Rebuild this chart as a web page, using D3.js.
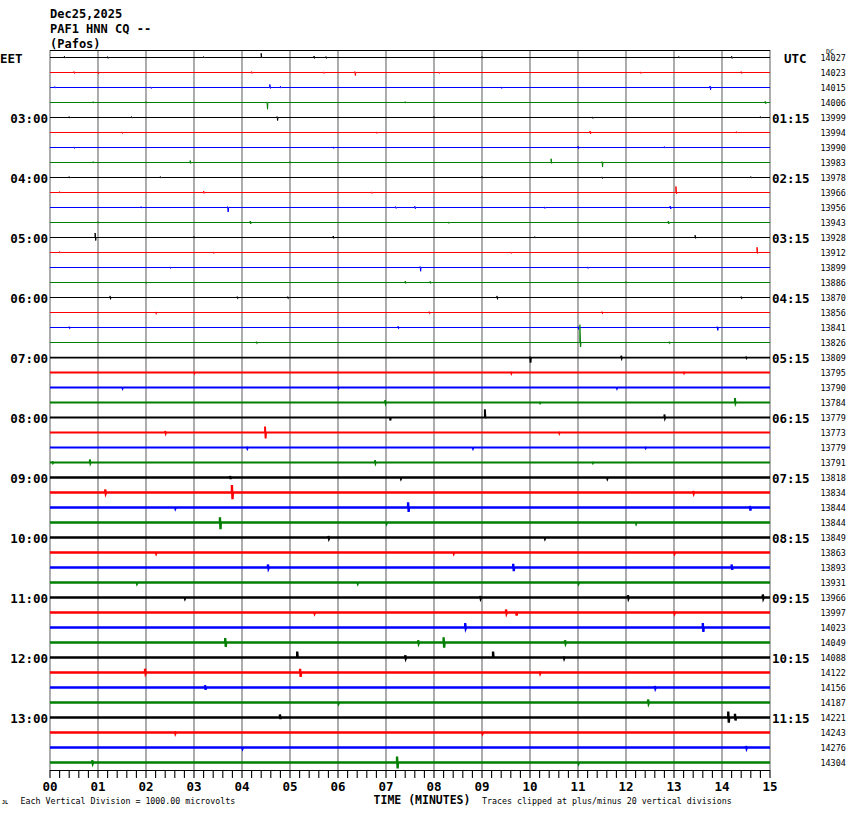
<!DOCTYPE html>
<html><head><meta charset="utf-8">
<script src="https://cdn.jsdelivr.net/npm/d3@7"></script>
<style>
html,body{margin:0;padding:0;background:#fff;}
svg{display:block;}
text{font-family:"DejaVu Sans Mono",monospace;}
</style></head>
<body>
<svg id="chart" width="850" height="814"></svg>
<script>
// ---------- data ----------
const headerLines = ["Dec25,2025", "PAF1 HNN CQ --", "(Pafos)"];
const minuteTicks = ["00","01","02","03","04","05","06","07","08","09","10","11","12","13","14","15"];
const eetLabels = ["EET","03:00","04:00","05:00","06:00","07:00","08:00","09:00","10:00","11:00","12:00","13:00"];
const utcLabels = ["UTC","01:15","02:15","03:15","04:15","05:15","06:15","07:15","08:15","09:15","10:15","11:15"];
const dcOffsets = [14027,14023,14015,14006,13999,13994,13990,13983,13978,13966,13956,13943,
  13928,13912,13899,13886,13870,13856,13841,13826,13809,13795,13790,13784,
  13779,13773,13779,13791,13818,13834,13844,13844,13849,13863,13893,13931,
  13966,13997,14023,14049,14088,14122,14156,14187,14221,14243,14276,14304];
// background noise half-envelope per trace (microvolts)
const noiseLevel = [0,0,0,0,0,0,0,0,0,0,0,0,0,0,0,0,
  8,8,8,8,25,30,30,30,30,30,35,30,
  45,45,45,45,45,45,45,45,45,45,45,45,45,45,45,45,45,45,45,45];
// spikes per trace: [minute, up microvolts, down microvolts]
const spikes = [
  [[0.3,80,40],[1.2,60,60],[3.2,60,30],[4.4,280,30],[5.5,100,60],[5.75,60,60],[9.0,60,40],[13.1,60,40],[14.2,80,60]],
  [[0.5,60,60],[1.0,40,80],[4.2,60,60],[5.7,40,60],[6.35,60,200],[8.1,40,60],[12.3,40,60],[14.4,60,60]],
  [[0.1,60,40],[2.1,40,60],[4.58,200,60],[4.8,80,40],[9.4,40,60],[13.75,100,150]],
  [[0.9,60,40],[2.0,60,40],[4.52,40,450],[7.4,60,40],[14.9,80,80]],
  [[0.4,60,40],[1.7,60,40],[4.73,60,200],[8.0,60,40],[11.3,40,60],[14.8,60,40]],
  [[1.5,40,60],[6.8,40,60],[11.25,100,100],[14.3,60,40]],
  [[0.5,40,60],[5.9,40,60],[11.0,80,80],[12.8,60,40]],
  [[0.9,60,40],[2.92,130,60],[5.0,60,40],[10.44,250,60],[11.5,60,300],[14.0,60,40]],
  [[0.4,60,40],[2.3,60,40],[9.0,60,40],[11.5,40,60],[14.6,60,40]],
  [[0.2,60,40],[3.2,100,60],[6.7,40,60],[13.04,400,100]],
  [[1.9,60,40],[3.7,60,300],[7.2,60,60],[7.6,80,80],[10.3,40,60],[12.92,100,100]],
  [[1.0,60,40],[4.17,100,100],[8.3,40,60],[12.88,100,100]],
  [[0.94,300,200],[3.0,60,40],[5.9,100,60],[10.1,60,40],[13.44,150,60]],
  [[0.2,60,40],[3.4,40,60],[9.6,40,60],[14.73,350,60]],
  [[2.5,40,60],[7.71,60,250],[11.2,40,60]],
  [[2.0,40,60],[7.4,100,60],[7.92,80,60],[12.0,60,40]],
  [[1.25,100,60],[3.9,60,40],[4.95,60,40],[9.31,100,60],[14.4,60,40]],
  [[2.2,40,60],[7.9,60,40],[11.5,60,40]],
  [[0.4,60,40],[7.25,80,40],[11.0,60,60],[13.9,60,200]],
  [[4.3,60,40],[11.04,1200,300],[12.9,60,40]],
  [[10.0,60,350],[11.9,120,60],[14.5,60,40]],
  [[3.0,60,40],[9.6,60,60],[13.2,60,40]],
  [[1.5,40,60],[6.0,60,40],[11.8,40,60]],
  [[6.98,150,60],[10.2,60,40],[14.27,300,60]],
  [[7.08,60,200],[9.06,550,60],[12.8,200,60]],
  [[2.4,100,60],[4.48,400,400],[10.6,60,60]],
  [[4.1,60,60],[8.8,40,60],[12.4,60,40]],
  [[0.05,80,40],[0.83,200,60],[6.77,150,60],[11.3,60,40]],
  [[3.75,100,100],[7.3,60,60],[11.6,60,60]],
  [[1.15,200,60],[3.79,500,450],[13.4,100,60]],
  [[2.6,60,60],[7.46,350,300],[14.58,100,200]],
  [[3.54,350,450],[7.0,60,60],[12.2,60,60]],
  [[5.8,100,60],[10.3,60,60]],
  [[2.2,60,60],[8.4,60,60],[13.0,60,60]],
  [[4.54,200,60],[9.65,250,250],[14.2,200,150]],
  [[1.8,60,60],[6.4,60,60],[11.0,60,60]],
  [[2.8,60,60],[8.96,100,60],[12.04,150,60],[14.85,200,60]],
  [[5.5,60,60],[9.5,200,60],[9.71,60,200],[13.0,80,60]],
  [[8.65,300,60],[13.6,300,300]],
  [[3.65,300,300],[7.67,150,60],[8.2,350,350],[10.73,150,60]],
  [[5.15,400,60],[7.4,150,60],[9.23,400,60],[10.7,80,60]],
  [[1.98,250,60],[5.21,250,300],[10.2,80,60]],
  [[3.23,150,150],[12.6,100,60]],
  [[6.0,60,60],[12.46,200,60]],
  [[4.79,200,100],[14.13,400,350],[14.27,250,200]],
  [[2.6,80,60],[9.0,60,60]],
  [[4.0,60,60],[14.5,100,60]],
  [[0.88,150,60],[7.23,400,400],[11.0,60,60]]
];

// ---------- drawing ----------
const svg = d3.select("#chart");
const traceColors = ["#000000","#ff0000","#0000ff","#007f00"];
const nTraces = dcOffsets.length;

const x = d3.scaleLinear().domain([0,15]).range([50,770]);
const yTrace = d3.scaleLinear().domain([0,nTraces-1]).range([57.5,762.5]);
const amp = d3.scaleLinear().domain([0,1000]).range([0,15]); // 1 division = 15px

// header
svg.selectAll("text.hdr").data(headerLines).join("text")
  .attr("class","hdr").attr("x",50).attr("y",(d,i)=>17.5+i*15.3)
  .attr("font-size","12px").attr("font-weight","bold").text(d=>d);

// vertical grid lines
svg.append("g").selectAll("line").data(d3.range(0,16)).join("line")
  .attr("x1",d=>x(d)).attr("x2",d=>x(d)).attr("y1",50).attr("y2",770)
  .attr("stroke","#808080").attr("stroke-width",1.3);

// top line
svg.append("line").attr("x1",x(0)).attr("x2",x(15)).attr("y1",50.5).attr("y2",50.5)
  .attr("stroke","#000").attr("stroke-width",1);

// traces
const line = d3.line().x(d=>x(d[0])).y(d=>d[1]);
const traceG = svg.append("g");
spikes.forEach((sp,i)=>{
  const y0 = yTrace(i);
  const pts = [[0,y0]];
  sp.slice().sort((a,b)=>a[0]-b[0]).forEach(s=>{
    pts.push([s[0],y0]);
    pts.push([s[0],y0-amp(s[1])]);
    pts.push([s[0]+0.012,y0+amp(s[2])]);
    pts.push([s[0]+0.02,y0]);
  });
  pts.push([15,y0]);
  traceG.append("path").attr("d",line(pts)).attr("fill","none")
    .attr("stroke",traceColors[i%4])
    .attr("stroke-width",1+2*amp(noiseLevel[i]))
    .attr("stroke-linejoin","miter");
});

// left (EET) labels
svg.selectAll("text.eet").data(eetLabels).join("text")
  .attr("class","eet")
  .attr("x",(d,i)=> i===0 ? 0 : 48)
  .attr("text-anchor",(d,i)=> i===0 ? "start" : "end")
  .attr("y",(d,i)=>yTrace(i*4)+5)
  .attr("font-size","12.5px").attr("font-weight","bold").text(d=>d);

// right (UTC) labels
svg.selectAll("text.utc").data(utcLabels).join("text")
  .attr("class","utc")
  .attr("x",(d,i)=> i===0 ? 784 : 772)
  .attr("y",(d,i)=>yTrace(i*4)+5)
  .attr("font-size","12.5px").attr("font-weight","bold").text(d=>d);

// DC offsets
svg.selectAll("text.dc").data(dcOffsets).join("text")
  .attr("class","dc").attr("x",820.5).attr("y",(d,i)=>yTrace(i)+3)
  .attr("font-size","8.4px").text(d=>d);
svg.append("text").attr("x",826).attr("y",53.5).attr("font-size","6.5px").text("DC");

// bottom axis
svg.append("line").attr("x1",x(0)).attr("x2",x(15)).attr("y1",770.5).attr("y2",770.5)
  .attr("stroke","#000").attr("stroke-width",1.2);
svg.append("g").selectAll("line").data(d3.range(0,75+1)).join("line")
  .attr("x1",d=>x(d/5)).attr("x2",d=>x(d/5)).attr("y1",770).attr("y2",778)
  .attr("stroke","#000").attr("stroke-width",1.1);
svg.selectAll("text.mt").data(minuteTicks).join("text")
  .attr("class","mt").attr("x",(d,i)=>x(i)).attr("y",790.5)
  .attr("text-anchor","middle").attr("font-size","12.5px").attr("font-weight","bold").text(d=>d);

svg.append("text").attr("x",422).attr("y",804).attr("text-anchor","middle")
  .attr("font-size","11.5px").attr("font-weight","bold").text("TIME (MINUTES)");
svg.append("text").attr("x",20.5).attr("y",804).attr("font-size","8.3px")
  .text("Each Vertical Division = 1000.00 microvolts");
svg.append("text").attr("x",482).attr("y",804).attr("font-size","8.3px")
  .text("Traces clipped at plus/minus 20 vertical divisions");
svg.append("text").attr("x",2).attr("y",804).attr("font-size","5px").attr("font-weight","bold").text("JL");
</script>
</body></html>
